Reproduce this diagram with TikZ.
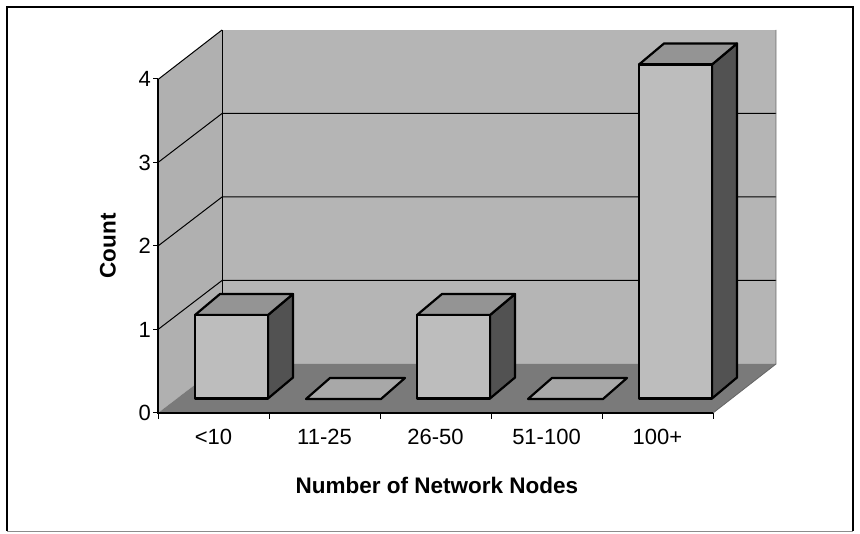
\documentclass[tikz,border=0pt]{standalone}
\usepackage{fontspec}
\setmainfont{Liberation Sans}
\begin{document}
\begin{tikzpicture}[x=1pt,y=-1pt,
  wall/.style={fill=black!29},
  sidewall/.style={fill=black!31},
  floorc/.style={fill=black!52},
  grid/.style={draw=black,line width=1pt},
  bfront/.style={fill=black!26,draw=black,line width=2.2pt,line join=round},
  btop/.style={fill=black!42,draw=black,line width=2.2pt,line join=round},
  bside/.style={fill=black!68,draw=black,line width=2.2pt,line join=round},
  bflat/.style={fill=black!34,draw=black,line width=2.2pt,line join=round},
  lbl/.style={font=\fontsize{22}{24}\selectfont,inner sep=0pt},
  ttl/.style={font=\fontsize{22.5}{25}\selectfont\bfseries,inner sep=0pt}]
\useasboundingbox (0,0) rectangle (860,534);
% frame
\draw[line width=2pt] (7,531) -- (7,7) -- (853,7) -- (853,531);
\draw[black!45,line width=0.8pt] (7,531) -- (853,531);
% walls
\fill[sidewall] (158,79.5) -- (222,30) -- (222,364) -- (158,413) -- cycle;
\fill[wall] (222,30) rectangle (776,364);
\fill[floorc] (158,413) -- (713,413) -- (776,364) -- (222,364) -- cycle;
% gridlines
\foreach \k in {1,2,3} {
  \draw[grid] (158,{413-83.5*\k}) -- (222,{364-83.5*\k}) -- (776,{364-83.5*\k});
}
\draw[grid] (158,79.5) -- (222,30);
\draw[grid] (222,30) -- (222,364);
\draw[black!60,line width=0.8pt] (713,413) -- (776,364) -- (776,30);
% axes
\draw[line width=1.3pt] (158,79.5) -- (158,413) -- (713,413);
\foreach \k in {0,...,4} { \draw[line width=1pt] (153,{413-83.5*\k}) -- (158,{413-83.5*\k}); }
\foreach \i in {0,...,5} { \draw[line width=1pt] ({158+111*\i},413) -- ({158+111*\i},419); }
% bars
\foreach \i/\v in {0/1,2/1,4/4} {
  \pgfmathsetmacro{\xl}{195+111*\i}
  \pgfmathsetmacro{\xr}{\xl+73}
  \pgfmathsetmacro{\yt}{398.5-83.5*\v}
  \draw[bside] (\xr,398.5) -- (\xr+25,377.5) -- (\xr+25,\yt-21) -- (\xr,\yt) -- cycle;
  \draw[btop] (\xl,\yt) -- (\xr,\yt) -- (\xr+25,\yt-21) -- (\xl+25,\yt-21) -- cycle;
  \draw[bfront] (\xl,\yt) rectangle (\xr,398.5);
}
\foreach \i in {1,3} {
  \pgfmathsetmacro{\xl}{195+111*\i}
  \draw[bflat] (\xl,399) -- (\xl+75,399) -- (\xl+99,378) -- (\xl+24,378) -- cycle;
}
% y labels
\node[lbl,anchor=east] (y0) at (151,413) {0};
\node[lbl,anchor=east] (y1) at (151,329.5) {1};
\node[lbl,anchor=east] (y2) at (151,246) {2};
\node[lbl,anchor=east] (y3) at (151,162.5) {3};
\node[lbl,anchor=east] (y4) at (151,79) {4};
% category labels
\node[lbl] (c1) at (213.5,437) {<10};
\node[lbl] (c2) at (324.5,437) {11-25};
\node[lbl] (c3) at (435.5,437) {26-50};
\node[lbl] (c4) at (546.5,437) {51-100};
\node[lbl] (c5) at (657.5,437) {100+};
% titles
\node[ttl] (xt) at (437,485) {Number of Network Nodes};
\node[ttl,rotate=90] (yt) at (108,246) {Count};
\end{tikzpicture}
\end{document}
